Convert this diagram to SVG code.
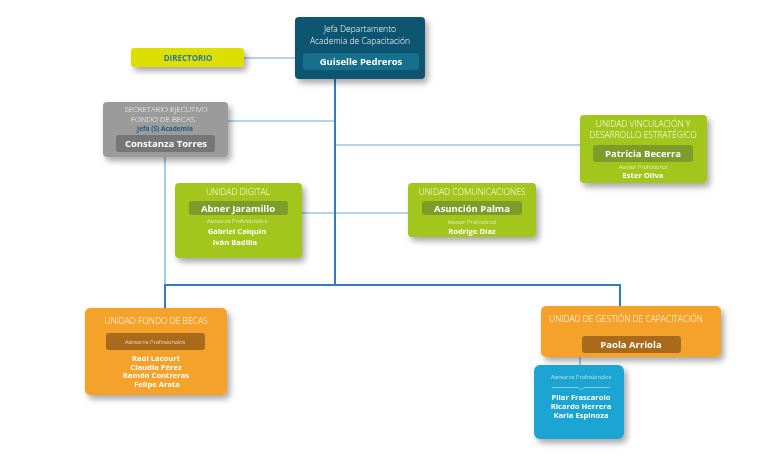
<svg xmlns="http://www.w3.org/2000/svg" width="768" height="469" viewBox="0 0 768 469">
<defs>
<filter id="sh" x="-20%" y="-20%" width="150%" height="160%">
<feGaussianBlur in="SourceAlpha" stdDeviation="3"/>
<feOffset dx="3" dy="4" result="b"/>
<feComponentTransfer><feFuncA type="linear" slope="0.35"/></feComponentTransfer>
<feMerge><feMergeNode/><feMergeNode in="SourceGraphic"/></feMerge>
</filter>
<style>
text{font-family:"Open Sans","Noto Sans",sans-serif;text-anchor:middle;fill:#fff}
.t{font-size:8.5px;font-weight:300}
.n{font-size:9.5px;font-weight:700}
.s{font-size:5.8px;font-weight:300}
.p{font-size:7.6px;font-weight:700}
.trunk{stroke:#2f7cc4;stroke-width:2;fill:none}
.thin{stroke:#6aa8dc;stroke-width:1.2;fill:none}
</style>
</defs>
<rect width="768" height="469" fill="#fff"/>
<g id="connectors">
<line class="thin" x1="244" y1="58" x2="295" y2="58"/>
<line class="thin" x1="228" y1="121" x2="335" y2="121"/>
<line class="thin" x1="335" y1="145" x2="580" y2="145"/>
<line class="thin" x1="302" y1="213" x2="408" y2="213"/>
<line class="thin" x1="165" y1="157" x2="165" y2="285"/>
<line class="trunk" x1="335" y1="79" x2="335" y2="285"/>
<polyline class="trunk" points="165,308 165,285 620,285 620,306"/>
<line class="thin" x1="580" y1="357" x2="580" y2="365"/>
</g>
<g id="jefa" filter="url(#sh)">
<rect x="295" y="17" width="130" height="62" rx="4" fill="#0e5470"/>
<rect x="303" y="53" width="116" height="17" rx="3" fill="#176f8d"/>
<text class="t" x="360" y="32">Jefa Departamento</text>
<text class="t" x="360" y="44">Academia de Capacitación</text>
<text class="n" x="361" y="65">Guiselle Pedreros</text>
</g>
<g id="directorio" filter="url(#sh)">
<rect x="131" y="48" width="113" height="19" rx="3" fill="#dcdf00"/>
<text class="p" x="188" y="61" style="fill:#2b79a8;font-size:8px">DIRECTORIO</text>
</g>
<g id="secretario" filter="url(#sh)">
<rect x="103" y="102" width="125" height="55" rx="4" fill="#9b9b9b"/>
<rect x="116" y="135" width="99" height="17" rx="3" fill="#767676"/>
<text class="t" x="166" y="112" style="font-size:7.8px">SECRETARIO EJECUTIVO</text>
<text class="t" x="163" y="121.5" style="font-size:7.8px">FONDO DE BECAS</text>
<text x="165" y="131" style="font-size:6.5px;font-weight:700;fill:#1b5c86">Jefa (S) Academia</text>
<text class="n" x="166" y="147">Constanza Torres</text>
</g>
<g id="vinculacion" filter="url(#sh)">
<rect x="580" y="115" width="127" height="68" rx="4" fill="#a2c61a"/>
<rect x="593" y="145" width="100" height="17" rx="3" fill="#7e9c2b"/>
<text class="t" x="643" y="127">UNIDAD VINCULACIÓN  Y</text>
<text class="t" x="643" y="138">DESARROLLO ESTRATÉGICO</text>
<text class="n" x="643" y="157">Patricia Becerra</text>
<text class="s" x="643" y="169">Asesor Profesional</text>
<text class="p" x="643" y="178">Ester Oliva</text>
</g>
<g id="digital" filter="url(#sh)">
<rect x="175" y="183" width="127" height="75" rx="4" fill="#a2c61a"/>
<rect x="189" y="201" width="99" height="14" rx="3" fill="#7e9c2b"/>
<text class="t" x="238" y="195">UNIDAD DIGITAL</text>
<text class="n" x="238" y="212">Abner Jaramillo</text>
<text class="s" x="237" y="223">Asesores Profesionales</text>
<text class="p" x="237" y="234">Gabriel Calquín</text>
<text class="p" x="235" y="245">Iván Badilla</text>
</g>
<g id="comunicaciones" filter="url(#sh)">
<rect x="408" y="183" width="128" height="54" rx="4" fill="#a2c61a"/>
<rect x="422" y="201" width="100" height="14" rx="3" fill="#7e9c2b"/>
<text class="t" x="472" y="195">UNIDAD COMUNICACIONES</text>
<text class="n" x="472" y="212">Asunción Palma</text>
<text class="s" x="472" y="223.5">Asesor Profesional</text>
<text class="p" x="472" y="233.5">Rodrigo Díaz</text>
</g>
<g id="fondo" filter="url(#sh)">
<rect x="85" y="308" width="142" height="87" rx="5" fill="#f5a22b"/>
<rect x="106" y="333" width="99" height="17" rx="3" fill="#a96b1d"/>
<text class="t" x="156" y="324">UNIDAD FONDO DE BECAS</text>
<text class="s" x="155" y="344">Asesores Profesionales</text>
<text class="p" x="156" y="361">Raúl Lacourt</text>
<text class="p" x="156" y="369.5">Claudia Pérez</text>
<text class="p" x="156" y="378">Ramón Contreras</text>
<text class="p" x="157" y="387">Felipe Arata</text>
</g>
<g id="gestion" filter="url(#sh)">
<rect x="541" y="306" width="180" height="51" rx="5" fill="#f5a22b"/>
<rect x="582" y="336" width="99" height="17" rx="3" fill="#a96b1d"/>
<text class="t" x="626" y="322">UNIDAD DE GESTIÓN DE CAPACITACIÓN</text>
<text class="n" x="631" y="348">Paola Arriola</text>
</g>
<g id="asesores-gestion" filter="url(#sh)">
<rect x="534" y="365" width="90" height="74" rx="6" fill="#1ca4d2"/>
<text class="s" x="581" y="379">Asesores Profesionales</text>
<polyline points="552,387.5 578,387.5 581,390 584,387.5 610,387.5" fill="none" stroke="#9fd6ee" stroke-width="0.8"/>
<text class="p" x="581" y="400">Pilar Frascarolo</text>
<text class="p" x="581" y="409">Ricardo Herrera</text>
<text class="p" x="581" y="418">Karla Espinoza</text>
</g>
</svg>
